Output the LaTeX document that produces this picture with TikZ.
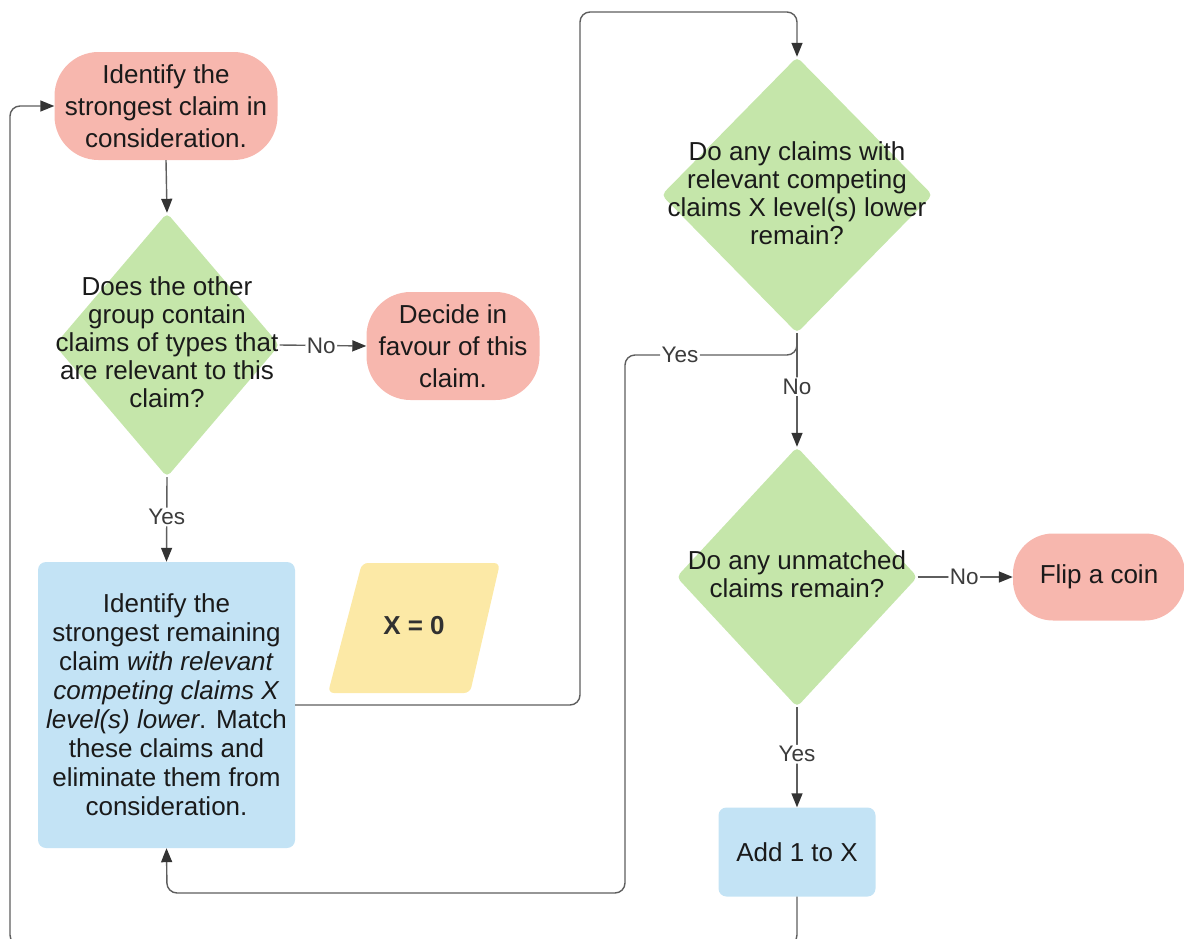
\documentclass[tikz,border=0pt]{standalone}
\usepackage{fontspec}
\setmainfont{Liberation Sans}
\usetikzlibrary{arrows.meta,shapes.geometric,calc}
\definecolor{pinkfill}{HTML}{F7B7AE}
\definecolor{greenfill}{HTML}{C5E6AA}
\definecolor{bluefill}{HTML}{C3E3F5}
\definecolor{yellowfill}{HTML}{FCE9A6}
\definecolor{txt}{HTML}{1A1A1A}
\definecolor{linec}{HTML}{5E5E5E}
\definecolor{tipc}{HTML}{333333}
\begin{document}
\begin{tikzpicture}[x=1pt,y=-1pt,
  base/.style={inner sep=0pt, align=center, text=txt, font=\fontsize{26}{32}\selectfont},
  term/.style={base, fill=pinkfill, rounded corners=44pt},
  procbox/.style={base, fill=bluefill, rounded corners=8pt, font=\fontsize{26}{29}\selectfont},
  decision/.style={diamond, fill=greenfill, inner sep=0pt, rounded corners=5pt},
  dtext/.style={base, font=\fontsize{26}{28}\selectfont},
  conn/.style={draw=linec, line width=1.4pt, rounded corners=10pt, -{Triangle[length=14pt,width=11pt,color=tipc]}},
  lbl/.style={fill=white, inner sep=1.5pt, text=txt!85, font=\fontsize{22.5}{24}\selectfont}
]
\useasboundingbox (0,0) rectangle (1184,938);

% terminals
\node[term, minimum width=223pt, minimum height=108pt] (start) at (166,106)
  {Identify the\\strongest claim in\\consideration.};
\node[term, minimum width=173pt, minimum height=108pt] (decide) at (453,346)
  {Decide in\\favour of this\\claim.};
\node[term, minimum width=172pt, minimum height=87pt, rounded corners=40pt] (flip) at (1099,577)
  {Flip a coin};

% decisions
\node[decision, minimum width=225pt, minimum height=264pt] (d1) at (167,345) {};
\node[dtext] (d1t) at (167,342)
  {Does the other\\group contain\\claims of types that\\are relevant to this\\claim?};
\node[decision, minimum width=271pt, minimum height=276pt] (d2) at (797,195) {};
\node[dtext] (d2t) at (797,193)
  {Do any claims with\\relevant competing\\claims X level(s) lower\\remain?};
\node[decision, minimum width=241pt, minimum height=260pt] (d3) at (797,577) {};
\node[dtext] (d3t) at (797,574)
  {Do any unmatched\\claims remain?};

% processes
\node[procbox, minimum width=257pt, minimum height=286pt] (box) at (166.5,705)
  {Identify the\\strongest remaining\\claim \textit{with relevant}\\\textit{competing claims X}\\\textit{level(s) lower}. Match\\these claims and\\eliminate them from\\consideration.};
\node[procbox, minimum width=157pt, minimum height=89pt] (add) at (797,852) {Add 1 to X};

% X = 0 parallelogram
\fill[yellowfill, rounded corners=6pt] (362,563) -- (500,563) -- (470,693) -- (328,693) -- cycle;
\node[base, font=\bfseries\fontsize{26}{28}\selectfont, text=txt!90] (x0) at (414,626) {X = 0};

% helper coordinates
\coordinate (c1) at (580,12);
\coordinate (c2) at (625,355);
\coordinate (c3) at (167,893);
\coordinate (c4) at (10,945);

% connectors
\draw[conn] (start.south) -- (d1.north);
\draw[conn] (d1.east) -- node[lbl, pos=0.48]{No} (decide.west);
\draw[conn] (d1.south) -- node[lbl, pos=0.47]{Yes} (box.north);
\draw[conn] (box.east) -| (c1) -| (d2.north);
\draw[conn] (d2.south) |- node[lbl, pos=0.84]{Yes} (c2) |- (c3) -- (box.south);
\draw[conn] (d2.south) -- node[lbl, pos=0.47]{No} (d3.north);
\draw[conn] (d3.east) -- node[lbl, pos=0.49]{No} (flip.west);
\draw[conn] (d3.south) -- node[lbl, pos=0.47]{Yes} (add.north);
\draw[conn] (add.south) |- (c4) |- (start.west);
\end{tikzpicture}
\end{document}
